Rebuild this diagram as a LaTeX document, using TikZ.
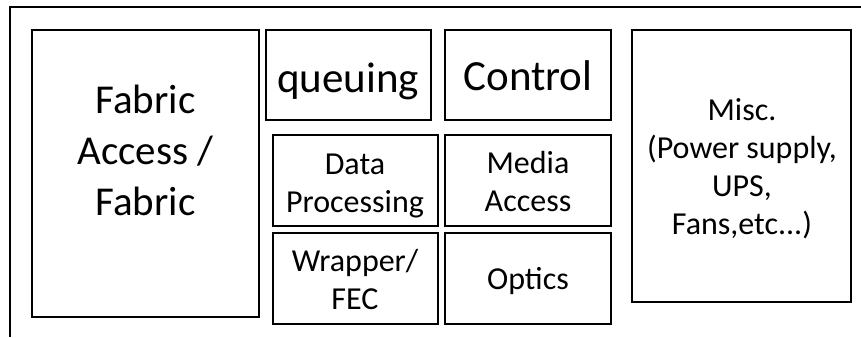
\documentclass[tikz,border=0pt]{standalone}
\usepackage{fontspec}
\setmainfont{Carlito}
\usepackage{tikz}
\usetikzlibrary{positioning}

\begin{document}
\begin{tikzpicture}[x=1pt,y=-1pt,
  blockbox/.style={draw=black, line width=2.5pt},
  blocktext/.style={align=center, inner sep=0pt, outer sep=0pt},
  bigfont/.style={font=\fontsize{43}{52}\selectfont},
  midfont/.style={font=\fontsize{41}{51}\selectfont},
  smallfont/.style={font=\fontsize{32}{38}\selectfont}]
\useasboundingbox (0,0) rectangle (861,337);

% Outer frame (only top and left visible)
\draw[line width=2pt] (10,337) -- (10,7) -- (861,7);

% Left block
\draw[blockbox] (32,30) rectangle (259,317);
\node[blocktext, midfont] (fabric) at (145.5,150) {Fabric\\Access /\\Fabric};

% Top row
\draw[blockbox] (266,30) rectangle (431,120);
\node[blocktext, bigfont] (queuing) at (348,81) {queuing};
\draw[blockbox] (445,30) rectangle (611,120);
\node[blocktext, bigfont] (control) at (528,76) {Control};

% Middle row
\draw[blockbox] (273,135) rectangle (438,226);
\node[blocktext, smallfont] (dataproc) at (355,186) {Data\\Processing};
\draw[blockbox] (445,135) rectangle (611,226);
\node[blocktext, smallfont] (mediaacc) at (528,181.5) {Media\\Access};

% Bottom row
\draw[blockbox] (273,233) rectangle (438,324);
\node[blocktext, smallfont] (wrapper) at (355,279) {Wrapper/\\FEC};
\draw[blockbox] (445,233) rectangle (611,324);
\node[blocktext, smallfont] (optics) at (528,281) {Optics};

% Right block
\draw[blockbox] (632,30) rectangle (851,302);
\node[blocktext, smallfont] (misc) at (742,169) {Misc.\\(Power supply,\\UPS,\\Fans,etc...)};
\end{tikzpicture}
\end{document}
